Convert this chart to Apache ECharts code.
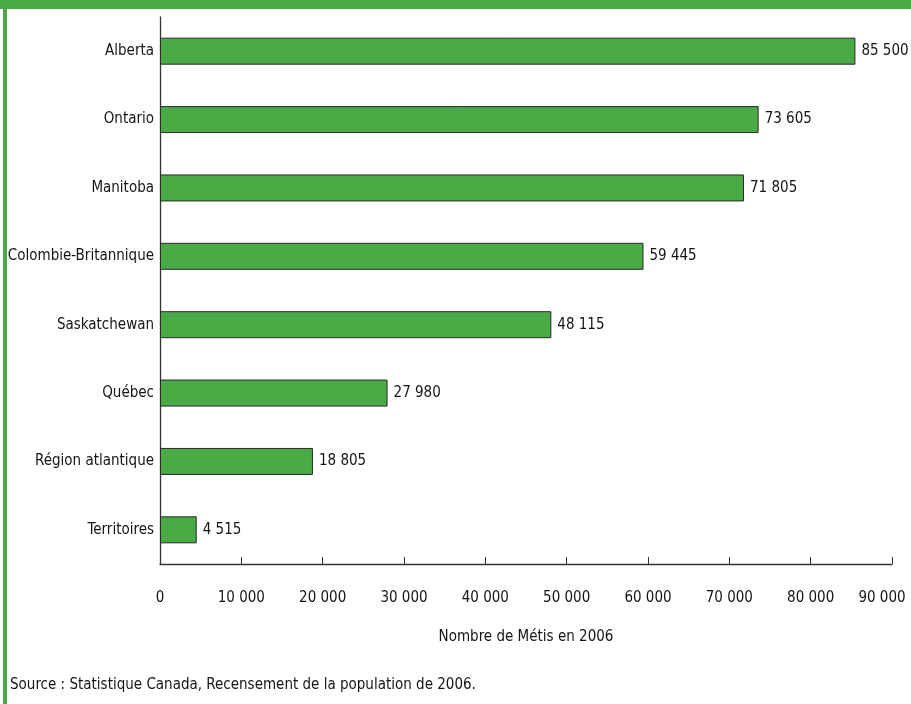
<!DOCTYPE html>
<html><head><meta charset="utf-8">
<script src="https://cdn.jsdelivr.net/npm/echarts@6/dist/echarts.min.js"></script>
<style>html,body{margin:0;padding:0;background:#fff}#c{width:911px;height:704px}</style>
</head><body><div id="c"></div>
<script>
const categories = ["Alberta","Ontario","Manitoba","Colombie-Britannique","Saskatchewan","Québec","Région atlantique","Territoires"];
const values = [85500,73605,71805,59445,48115,27980,18805,4515];
const xTicks = [0,10000,20000,30000,40000,50000,60000,70000,80000,90000];
const axisName = "Nombre de Métis en 2006";
const sourceText = "Source : Statistique Canada, Recensement de la population de 2006.";

const FONT = '"DejaVu Sans Condensed","Liberation Sans Narrow",sans-serif';
const FS = 15;
const fmt = v => String(v).replace(/\B(?=(\d{3})+(?!\d))/g, '\u00a0');
const GREEN = '#4aaa46';
const TXT = '#141414';
const xMax = xTicks[xTicks.length-1];
const chart = echarts.init(document.getElementById('c'), null, {renderer:'canvas'});
chart.setOption({
  animation:false,
  grid:{left:160, right:19, top:17, bottom:140, containLabel:false, outerBoundsMode:'none'},
  xAxis:{type:'value', min:xTicks[0], max:xMax, interval:xTicks[1]-xTicks[0],
    axisLine:{show:true, lineStyle:{color:'#333', width:1.3}},
    axisTick:{show:true, inside:true, length:7, lineStyle:{color:'#333', width:1}},
    splitLine:{show:false},
    axisLabel:{margin:27, color:TXT, fontFamily:FONT, fontSize:FS,
      formatter:v => v === xMax ? '{last|' + fmt(v) + '}' : fmt(v),
      rich:{last:{padding:[0,20,0,0], color:TXT, fontFamily:FONT, fontSize:FS}}},
    name:axisName, nameLocation:'middle', nameGap:66,
    nameTextStyle:{color:TXT, fontFamily:FONT, fontSize:FS}
  },
  yAxis:{type:'category', data:categories, inverse:true,
    axisLine:{show:true, lineStyle:{color:'#333', width:1.3}},
    axisTick:{show:false},
    axisLabel:{margin:6, color:TXT, fontFamily:FONT, fontSize:FS}
  },
  series:[{type:'bar', data:values, barWidth:27,
    itemStyle:{color:GREEN, borderColor:'#2a2a2a', borderWidth:1},
    label:{show:true, position:'right', distance:6, color:TXT, fontFamily:FONT, fontSize:FS, formatter:p=>fmt(p.value)}
  }],
  graphic:[
    {type:'rect', shape:{x:0,y:0,width:911,height:9}, style:{fill:GREEN}},
    {type:'rect', shape:{x:3,y:0,width:4,height:704}, style:{fill:GREEN}},
    {type:'text', left:10, top:678, style:{text:sourceText, fill:TXT, font:FS+'px '+FONT}}
  ]
});
</script></body></html>
